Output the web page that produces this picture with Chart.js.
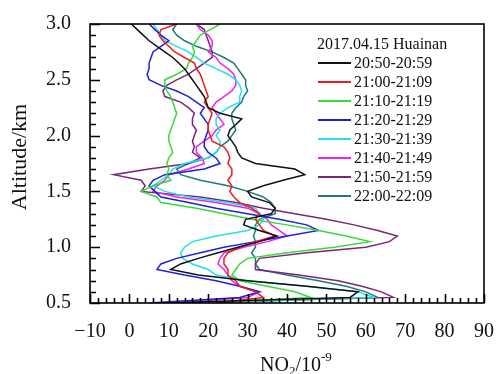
<!DOCTYPE html>
<html>
<head>
<meta charset="utf-8">
<script src="https://cdn.jsdelivr.net/npm/chart.js@4.4.1/dist/chart.umd.min.js"></script>
<style>
  html, body { margin: 0; padding: 0; background: #fff; }
  #wrap { width: 503px; height: 374px; }
</style>
</head>
<body>
<div id="wrap"><canvas id="profileChart" width="503" height="374"></canvas></div>
<script>
// Altitude levels (km), top to bottom
const altitudes = [3.0, 2.95, 2.9, 2.85, 2.8, 2.75, 2.7, 2.65, 2.6, 2.55,
  2.5, 2.45, 2.4, 2.35, 2.3, 2.25, 2.2, 2.15, 2.1, 2.05,
  2.0, 1.95, 1.9, 1.85, 1.8, 1.75, 1.7, 1.65, 1.6, 1.55,
  1.5, 1.45, 1.4, 1.35, 1.3, 1.25, 1.2, 1.15, 1.1, 1.05,
  1.0, 0.95, 0.9, 0.85, 0.8, 0.75, 0.7, 0.65, 0.6, 0.55, 0.5];

// NO2 (10^-9) per scan period
const no2_2050 = [0.5, 2, 3.5, 5, 7, 9, 11, 12.5, 14, 15,
  16, 17, 18, 19, 19.5, 20, 23, 28.5, 27, 25.5,
  25, 26, 27, 27.5, 28.5, 32, 42, 44.5, 39, 34,
  30, 31, 35.5, 37, 36, 29.5, 29, 33, 37.5, 33,
  27.5, 22.5, 17.5, 13, 10.5, 17.5, 30, 45, 58, 56, 8];
const no2_2100 = [12, 8, 7.5, 8.5, 10, 11.5, 14, 16.5, 17, 18,
  18.5, 19, 19.5, 20, 19, 20, 21, 20.5, 20, 20,
  20.5, 21, 24, 25, 25.5, 25, 26, 26, 25, 26,
  25.5, 26.5, 28, 31, 33, 32, 33, 34, 37, 32,
  28, 25, 24, 24, 25, 25, 27, 28, 32, 34, 22];
const no2_2110 = [23, 20.5, 18, 17, 16, 16.5, 16, 15, 14.5, 12,
  9, 9, 9.5, 10.5, 11, 11.5, 12, 11.5, 11, 10.5,
  10, 10, 10.5, 11, 10, 9.5, 10, 9.5, 10.5, 6,
  3, 7, 8, 17, 24, 31, 40, 48, 55, 61,
  52, 40, 30, 28, 27, 26, 28, 35, 42, 46, 20];
const no2_2120 = [5, 6.5, 8, 10, 8, 6, 5.5, 5, 5, 4.5,
  5, 8, 12, 15, 17, 19, 18, 19, 20, 20,
  19.5, 19, 19, 20, 22, 23, 19, 9, 6, 5,
  6.5, 8, 15, 22, 30, 38, 45, 48, 40, 32,
  24, 18, 12, 8, 7, 14, 22, 28, 33, 28, 5];
const no2_2130 = [6, 7, 8, 9, 12, 15, 17, 19, 22, 25,
  27, 28, 28.5, 28, 28, 25, 23, 22, 22, 23,
  22, 23, 23, 22, 20, 14, 11, 10, 8, 6,
  9, 15, 25, 32, 33, 34, 33, 30, 22, 16,
  14, 13, 13.5, 16, 20, 22, 30, 45, 58, 62, 15];
const no2_2140 = [17, 18, 20, 21, 21, 20, 22, 23, 25, 26.5,
  27, 27, 26, 24, 22, 21, 22, 23, 24, 22,
  21, 19, 17, 17, 18.5, 19, 15, 10, 9, 7,
  6, 12, 22, 30, 33, 35, 36, 38, 40, 35,
  29, 24, 23, 22.5, 24, 25, 26, 28, 33, 30, 12];
const no2_2150 = [17, 19, 19.5, 20, 20.5, 21, 21, 19, 17, 15,
  12, 9.5, 8.5, 9, 13, 15, 16.5, 16, 16, 17,
  16.5, 16, 16.5, 16, 18, 15, 5, -4, 3, 4,
  3, 18, 27, 34, 42, 50, 57, 63, 68, 66,
  60, 45, 33, 32, 32, 43, 53, 59, 64, 67, 10];
const no2_2200 = [12, 11, 12, 14, 17, 21, 24, 26.5, 27.5, 28.5,
  29.5, 29.5, 30, 29, 28.5, 27, 26, 26, 26.5, 27,
  26, 25, 23, 22, 20, 15, 12, 13, 18, 25,
  30, 34, 36, 37, 37, 33, 32, 32, 31.5, 32,
  32, 31, 32, 32, 33, 40, 48, 55, 60, 63, 18];

const periods = ['20:50-20:59', '21:00-21:09', '21:10-21:19', '21:20-21:29',
  '21:30-21:39', '21:40-21:49', '21:50-21:59', '22:00-22:09'];
const seriesValues = [no2_2050, no2_2100, no2_2110, no2_2120, no2_2130, no2_2140, no2_2150, no2_2200];
const seriesColors = ['#111111', '#f01c1c', '#3ad83a', '#1f1fe0', '#22e0ee', '#ee22ee', '#7a2678', '#1f7a78'];

const legendTitle = '2017.04.15 Huainan';
const xTicks = [-10, 0, 10, 20, 30, 40, 50, 60, 70, 80, 90];
const yTicks = [0.5, 1.0, 1.5, 2.0, 2.5, 3.0];
const yTitle = 'Altitude/km';

const serif = "'Liberation Serif', 'Times New Roman', serif";

// cadre + graduations vers l'intérieur (majeures et mineures)
const frameTicks = {
  id: 'frameTicks',
  afterDatasetsDraw(chart) {
    const { ctx, chartArea: a, scales: { x, y } } = chart;
    ctx.save();
    ctx.strokeStyle = '#000';
    ctx.lineWidth = 1.6;
    ctx.strokeRect(a.left, a.top, a.right - a.left, a.bottom - a.top);
    ctx.beginPath();
    for (let i = 0; i <= 50; i++) {
      const px = Math.round(x.getPixelForValue(-10 + i * 2)) + 0.5;
      const len = i % 5 === 0 ? 9 : 5;
      ctx.moveTo(px, a.bottom);
      ctx.lineTo(px, a.bottom - len);
    }
    for (let i = 0; i <= 25; i++) {
      const py = Math.round(y.getPixelForValue(0.5 + i / 10)) + 0.5;
      const len = i % 5 === 0 ? 10 : 6;
      ctx.moveTo(a.left, py);
      ctx.lineTo(a.left + len, py);
    }
    ctx.stroke();
    ctx.restore();
  }
};

// titres des axes et légende
const labelsPlugin = {
  id: 'labelsPlugin',
  afterDraw(chart) {
    const { ctx } = chart;
    ctx.save();
    ctx.fillStyle = '#111';
    // y title
    ctx.font = '22px ' + serif;
    ctx.textAlign = 'center';
    ctx.textBaseline = 'middle';
    ctx.translate(20, 157);
    ctx.rotate(-Math.PI / 2);
    ctx.fillText(yTitle, 0, 0);
    ctx.setTransform(1, 0, 0, 1, 0, 0);
    // x title: NO2/10^-9
    ctx.textAlign = 'left';
    ctx.textBaseline = 'alphabetic';
    let cx = 260, base = 371;
    ctx.font = '20px ' + serif;
    ctx.fillText('NO', cx, base); cx += ctx.measureText('NO').width;
    ctx.font = '13px ' + serif;
    ctx.fillText('2', cx, base + 4); cx += ctx.measureText('2').width;
    ctx.font = '20px ' + serif;
    ctx.fillText('/10', cx, base); cx += ctx.measureText('/10').width;
    ctx.font = '13px ' + serif;
    ctx.fillText('-9', cx, base - 10);
    // legend
    ctx.font = '16px ' + serif;
    ctx.fillText(legendTitle, 317, 49);
    chart.data.datasets.forEach((ds, i) => {
      const yy = 63 + i * 19;
      ctx.strokeStyle = ds.borderColor;
      ctx.lineWidth = 2;
      ctx.beginPath();
      ctx.moveTo(318, yy);
      ctx.lineTo(351, yy);
      ctx.stroke();
      ctx.textBaseline = 'middle';
      ctx.fillText(ds.label, 354, yy + 1);
    });
    ctx.restore();
  }
};

const datasets = periods.map((p, i) => ({
  label: p,
  data: altitudes.map((alt, k) => ({ x: seriesValues[i][k], y: alt })),
  borderColor: seriesColors[i],
  backgroundColor: seriesColors[i],
  borderWidth: 1.5,
  pointRadius: 0,
  showLine: true,
  tension: 0
}));

const ctx = document.getElementById('profileChart').getContext('2d');
const profileChart = new Chart(ctx, {
  type: 'scatter',
  data: { datasets },
  options: {
    responsive: false,
    animation: false,
    layout: { padding: { top: 24, right: 16, left: 0, bottom: 0 } },
    plugins: { legend: { display: false }, tooltip: { enabled: false } },
    scales: {
      x: {
        type: 'linear', min: -10, max: 90,
        afterBuildTicks: s => { s.ticks = xTicks.map(v => ({ value: v })); },
        afterFit: s => { s.height = 71; },
        grid: { display: false },
        border: { display: false },
        ticks: {
          color: '#111', padding: 9, maxRotation: 0,
          font: { family: serif, size: 20 },
          callback: v => (v < 0 ? '\u2212' + Math.abs(v) : String(v))
        }
      },
      y: {
        type: 'linear', min: 0.5, max: 3.0,
        afterBuildTicks: s => { s.ticks = yTicks.map(v => ({ value: v })); },
        afterFit: s => { s.width = 90; },
        grid: { display: false },
        border: { display: false },
        ticks: {
          color: '#111', padding: 11,
          font: { family: serif, size: 20 },
          callback: v => v.toFixed(1)
        }
      }
    }
  },
  plugins: [frameTicks, labelsPlugin]
});
</script>
</body>
</html>
